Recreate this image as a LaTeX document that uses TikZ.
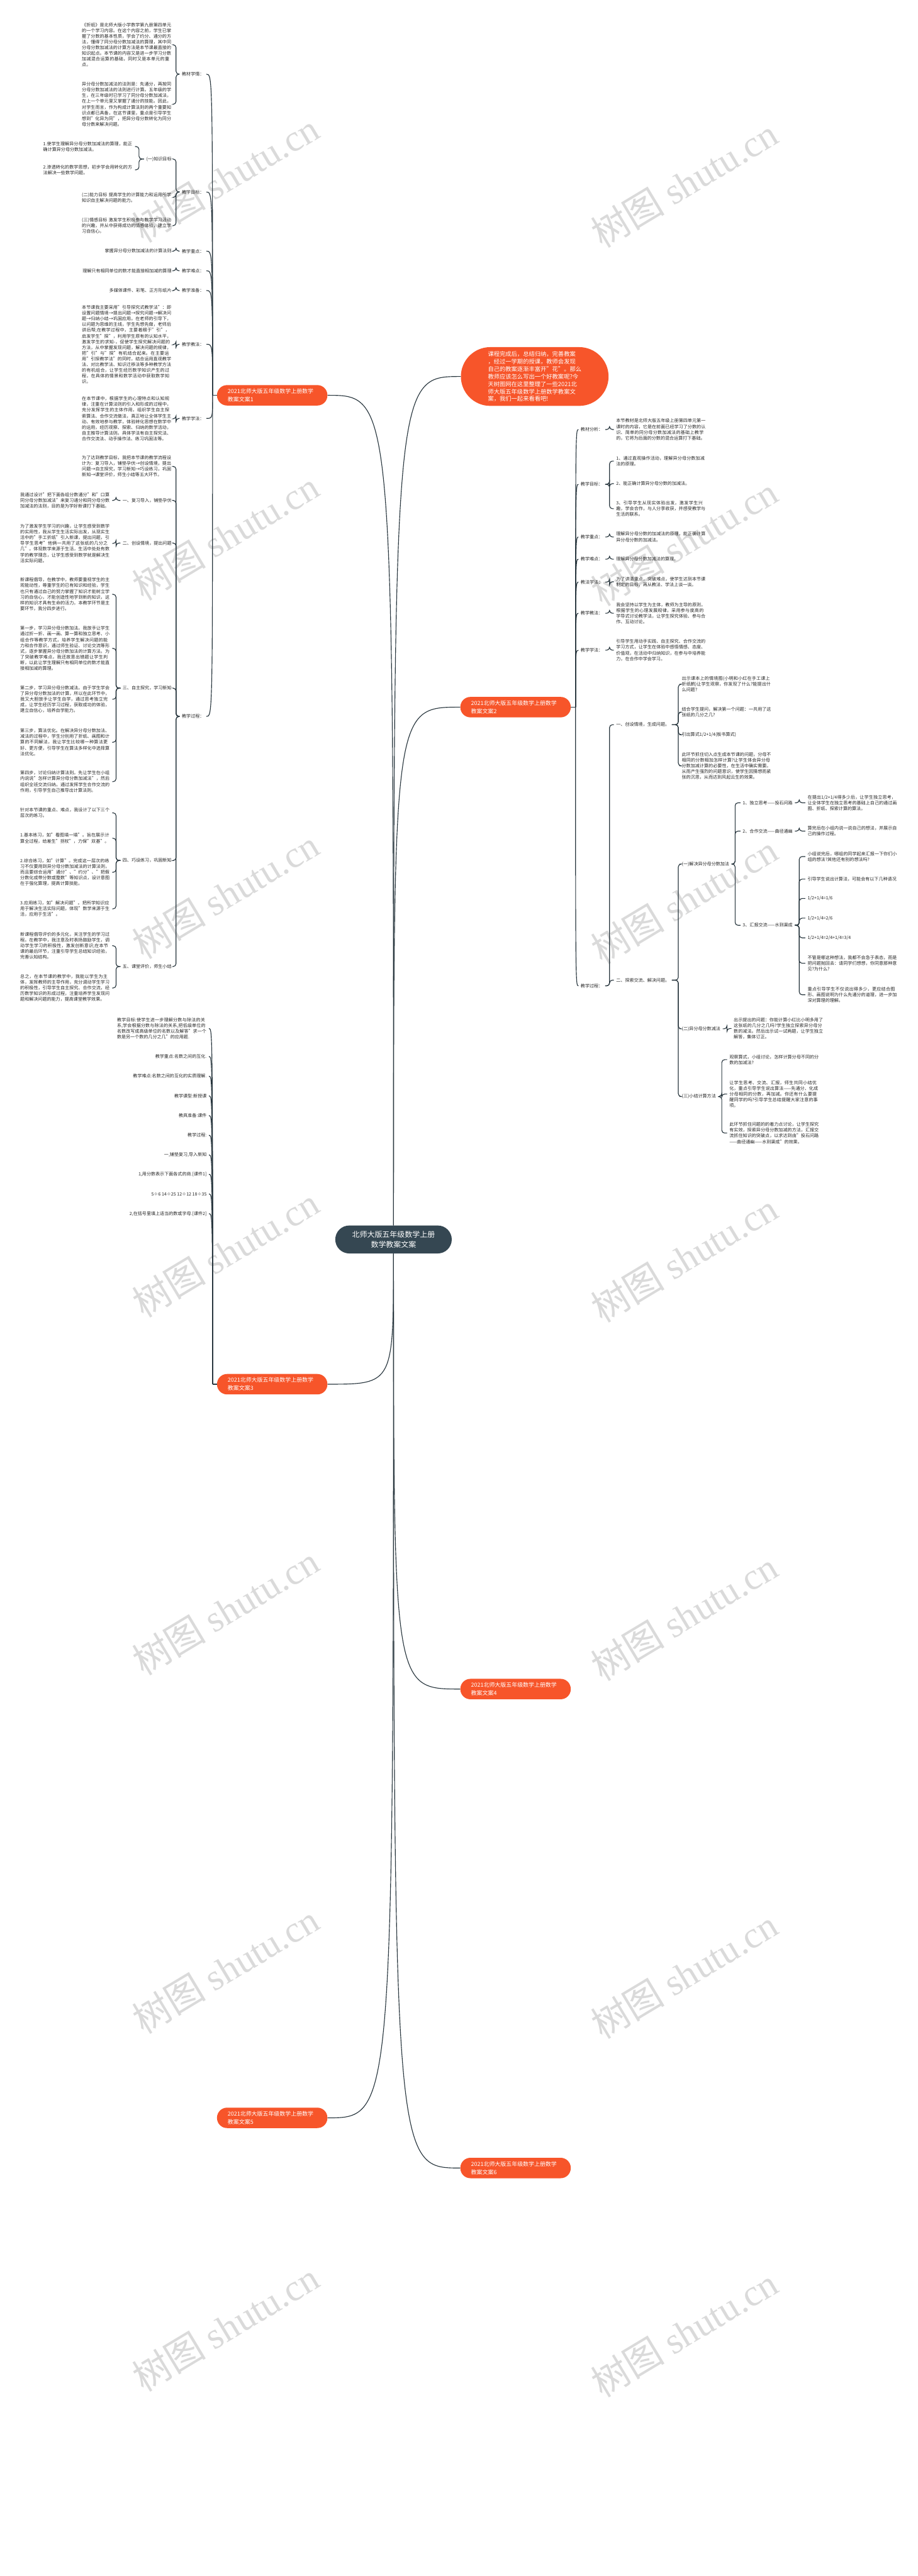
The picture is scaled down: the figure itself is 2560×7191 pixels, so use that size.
\documentclass[tikz,border=0pt]{standalone}
\usepackage{fontspec}
\setmainfont{Noto Sans CJK SC}
\newfontfamily\wmserif{Liberation Serif}
\XeTeXlinebreaklocale "zh"
\XeTeXlinebreakskip = 0pt plus 1pt
\definecolor{brand}{RGB}{247,85,42}
\definecolor{slate}{RGB}{53,71,82}
\definecolor{linec}{RGB}{40,54,62}
\definecolor{wmc}{RGB}{218,218,218}
\newcommand{\fanL}[2]{\draw[conn] (#1) .. controls (#1 |- #2.east) .. (#2.east);}
\newcommand{\fanR}[2]{\draw[conn] (#1) .. controls (#1 |- #2.west) .. (#2.west);}
\newcommand{\brL}[3]{\draw[brc] (#1.west) -- ++(-#3,0) |- (#2.east);}
\newcommand{\brR}[3]{\draw[brc] (#1.east) -- ++(#3,0) |- (#2.west);}
\begin{document}
\begin{tikzpicture}[x=0.5pt,y=-0.5pt,
  conn/.style={draw=linec,line width=1pt},
  brc/.style={conn,rounded corners=4pt},
  txt/.style={font=\fontsize{6.2}{8}\selectfont,inner xsep=3pt,inner ysep=1pt,text=black!85},
  leafw/.style={txt,text width=125pt,align=left},
  lab/.style={txt},
  branch/.style={fill=brand,text=white,rounded corners=14pt,minimum height=28.5pt,text width=124pt,inner xsep=15pt,align=left,font=\fontsize{7.85}{11.5}\selectfont},
  wm/.style={text=wmc,rotate=31,anchor=base west,inner sep=0pt,font=\fontsize{52}{56}\selectfont},
  ]
\useasboundingbox (0,0) rectangle (2560,7191);
\fill[white] (0,0) rectangle (2560,7191);

% watermarks
\foreach \k in {0,...,6} {
  \node[wm] (wl\k) at (400,{680+1000*\k}) {树图 {\wmserif shutu.cn}};
  \node[wm] (wr\k) at (1680,{695+1000*\k}) {树图 {\wmserif shutu.cn}};
}

% center
\node[fill=slate,text=white,rounded corners=19.5pt,minimum width=162.5pt,minimum height=39pt,align=center,font=\fontsize{10.5}{14.5}\selectfont] (c) at (1098,3460) {北师大版五年级数学上册\\数学教案文案};

% note
\node[fill=brand,text=white,rounded corners=41pt,minimum width=206pt,minimum height=82pt,align=left,font=\fontsize{8.15}{10.5}\selectfont] (n) at (1492,1051) {课程完成后，总结归纳，完善教案\\，经过一学期的授课，教师会发现\\自己的教案逐渐丰富开"花"。那么\\教师应该怎么写出一个好教案呢?今\\天树图网在这里整理了一些2021北\\师大版五年级数学上册数学教案文\\案，我们一起来看看吧!};

% branch nodes
\node[branch] (A) at (759.5,1103.5) {2021北师大版五年级数学上册数学\\教案文案1};
\node[branch] (B) at (1438.5,1974) {2021北师大版五年级数学上册数学\\教案文案2};
\node[branch] (D) at (759.5,3864) {2021北师大版五年级数学上册数学\\教案文案3};
\node[branch] (E) at (1438.5,4715) {2021北师大版五年级数学上册数学\\教案文案4};
\node[branch] (F) at (759.5,5912) {2021北师大版五年级数学上册数学\\教案文案5};
\node[branch] (G) at (1438.5,6052) {2021北师大版五年级数学上册数学\\教案文案6};

\draw[conn] (c.north) .. controls (c.north |- n.west) .. (n.west);
\draw[conn] (c.north) .. controls (c.north |- A.east) .. (A.east);
\draw[conn] (c.north) .. controls (c.north |- B.west) .. (B.west);
\draw[conn] (c.south) .. controls (c.south |- D.east) .. (D.east);
\draw[conn] (c.south) .. controls (c.south |- E.west) .. (E.west);
\draw[conn] (c.south) .. controls (c.south |- F.east) .. (F.east);
\draw[conn] (c.south) .. controls (c.south |- G.west) .. (G.west);

% ================= branch A (left) =================
\draw[conn] (A.west) -- ++(-12,0) coordinate (tA);
\node[lab,anchor=east] (a1) at (576,207) {教材学情：};
\node[leafw,anchor=east] (a1a) at (485,125) {《折纸》是北师大版小学数学第九册第四单元的一个学习内容。在这个内容之前，学生已掌握了分数的基本性质，学会了约分、通分的方法，懂得了同分母分数加减法的算理，其中同分母分数加减法的计算方法是本节课最直接的知识起点。本节课的内容又是进一步学习分数加减混合运算的基础，同时又是本单元的重点。};
\node[leafw,anchor=east] (a1b) at (485,291) {异分母分数加减法的法则是：先通分，再按同分母分数加减法的法则进行计算。五年级的学生，在三年级时已学习了同分母分数加减法，在上一个单元里又掌握了通分的技能。因此，对学生而言，作为构成计算法则的两个重要知识点都已具备，在这节课里，重点是引导学生想到"化异为同"，把异分母分数转化为同分母分数来解决问题。};
\node[lab,anchor=east] (a2) at (576,536) {教学目标：};
\node[lab,anchor=east] (a2a) at (485,444) {(一)知识目标};
\node[leafw,anchor=east] (a2a1) at (377,409) {1.使学生理解异分母分数加减法的算理，能正确计算异分母分数加减法。};
\node[leafw,anchor=east] (a2a2) at (377,474) {2.渗透转化的数学思想，初步学会用转化的方法解决一些数学问题。};
\node[leafw,anchor=east] (a2b) at (485,551) {(二)能力目标 提高学生的计算能力和运用所学知识自主解决问题的能力。};
\node[leafw,anchor=east] (a2c) at (485,630) {(三)情感目标 激发学生积极参与数学学习活动的兴趣，并从中获得成功的情感体验，建立学习自信心。};
\node[lab,anchor=east] (a3) at (576,701) {教学重点：};
\node[lab,anchor=east] (a3a) at (485,701) {掌握异分母分数加减法的计算法则};
\node[lab,anchor=east] (a4) at (576,756) {教学难点：};
\node[lab,anchor=east] (a4a) at (485,756) {理解只有相同单位的数才能直接相加减的算理};
\node[lab,anchor=east] (a5) at (576,811) {教学准备：};
\node[lab,anchor=east] (a5a) at (485,811) {多媒体课件、彩笔、正方形纸片};
\node[lab,anchor=east] (a6) at (576,961) {教学教法：};
\node[leafw,anchor=east] (a6a) at (485,962) {本节课我主要采用"引导探究式教学法"：即设置问题情境→提出问题→探究问题→解决问题→归纳小结→巩固应用。在老师的引导下，以问题为思维的主线，学生先想先做，老师后讲后帮;在教学过程中，主要着眼于"引"，启发学生"探"，利用学生原有的认知水平，激发学生的求知-，促使学生探究解决问题的方法，从中掌握发现问题，解决问题的规律，把"引"与"探"有机结合起来。在主要运用"引探教学法"的同时，结合运用直观教学法、对比教学法、知识迁移法等多种教学方法的有机组合，让学生经历数学知识产生的过程，在具体的情景和数学活动中获取数学知识。};
\node[lab,anchor=east] (a7) at (576,1168) {教学学法：};
\node[leafw,anchor=east] (a7a) at (485,1169) {在本节课中，根据学生的心理特点和认知规律，注重在计算法则的引入和形成的过程中，充分发挥学生的主体作用，组织学生自主探索算法、合作交流做法，真正地让全体学生主动、有效地参与教学，体验转化思想在数学中的运用，经历观察、探索、归纳的数学活动，自主推导计算法则。具体学法有自主探究法、合作交流法、动手操作法、练习巩固法等。};
\node[lab,anchor=east] (a8) at (576,2000) {教学过程：};
\node[leafw,anchor=east] (a8a) at (485,1302) {为了达到教学目标，我把本节课的教学流程设计为：复习导入，铺垫孕伏→创设情境，提出问题→自主探究，学习新知→巧设练习，巩固新知→课堂评价，师生小结等五大环节。};
\node[lab,anchor=east] (a8b) at (485,1397) {一、复习导入，铺垫孕伏};
\node[leafw,anchor=east] (a8b1) at (313,1397) {我通过设计"把下面各组分数通分"和"口算同分母分数加减法"来复习通分和同分母分数加减法的法则，目的是为学好新课打下基础。};
\node[lab,anchor=east] (a8c) at (485,1516) {二、创设情境，提出问题};
\node[leafw,anchor=east] (a8c1) at (313,1517) {为了激发学生学习的兴趣，让学生感受到数学的实用性，我从学生生活实际出发，从现实生活中的"手工折纸"引入新课，提出问题，引导学生思考"他俩一共用了这张纸的几分之几"。体现数学来源于生活，生活中处处有数学的教学理念，让学生感受到数学就是解决生活实际问题。};
\node[lab,anchor=east] (a8d) at (485,1921) {三、自主探究，学习新知};
\node[leafw,anchor=east] (a8d1) at (313,1659) {新课程倡导，在教学中，教师要重视学生的主观能动性，尊重学生的已有知识和经验，学生也只有通过自己的努力掌握了知识才能树立学习的自信心，才能创造性地学到新的知识，这样的知识才具有生命的活力。本教学环节是主要环节，我分四步进行。};
\node[leafw,anchor=east] (a8d2) at (313,1810) {第一步，学习异分母分数加法。我放手让学生通过折一折、画一画、算一算和独立思考、小组合作等教学方式，培养学生解决问题的能力和合作意识，通过师生验证、讨论交流等形式，逐步掌握异分母分数加法的计算方法。为了突破教学难点，我还故意出错题让学生判断，以此让学生理解只有相同单位的数才能直接相加减的算理。};
\node[leafw,anchor=east] (a8d3) at (313,1952) {第二步，学习异分母分数减法。由于学生学会了异分母分数加法的计算，所以在此环节中，我又大胆放手让学生自学，通过思考独立完成，让学生经历学习过程，获取成功的体验，建立自信心，培养自学能力。};
\node[leafw,anchor=east] (a8d4) at (313,2072) {第三步，算法优化。在解决异分母分数加法、减法的过程中，学生分别用了折纸、画图和计算的不同解法，我让学生比较哪一种算法更好、更方便，引导学生在算法多样化中选择算法优化。};
\node[leafw,anchor=east] (a8d5) at (313,2182) {第四步，讨论归纳计算法则。先让学生在小组内说说"怎样计算异分母分数加减法"，然后组织全班交流归纳。通过发挥学生合作交流的作用，引导学生自己推导出计算法则。};
\node[lab,anchor=east] (a8e) at (485,2402) {四、巧设练习，巩固新知};
\node[leafw,anchor=east] (a8e1) at (313,2269) {针对本节课的重点、难点，我设计了以下三个层次的练习。};
\node[leafw,anchor=east] (a8e2) at (313,2340) {1.基本练习，如"看图填一填"。旨在展示计算全过程，给差生"拐杖"，力保"双基"。};
\node[leafw,anchor=east] (a8e3) at (313,2435) {2.综合练习，如"计算"。完成这一层次的练习不仅要用到异分母分数加减法的计算法则，而且要综合运用"通分"、"约分"、"把假分数化成带分数或整数"等知识点，设计意图在于强化算理，提高计算技能。};
\node[leafw,anchor=east] (a8e4) at (313,2537) {3.应用练习，如"解决问题"。把所学知识应用于解决生活实际问题，体现"数学来源于生活，应用于生活"。};
\node[lab,anchor=east] (a8f) at (485,2698) {五、课堂评价，师生小结};
\node[leafw,anchor=east] (a8f1) at (313,2640) {新课程倡导评价的多元化，关注学生的学习过程。在教学中，我注意及时表扬鼓励学生，调动学生学习的积极性，激发创新意识;在本节课的最后环节，注重引导学生总结知识经验，完善认知结构。};
\node[leafw,anchor=east] (a8f2) at (313,2758) {总之，在本节课的教学中，我能以学生为主体，发挥教师的主导作用，充分调动学生学习的积极性，引导学生自主探究、合作交流，经历数学知识的形成过程，注重培养学生发现问题和解决问题的能力，提高课堂教学效果。};

\foreach \k in {a1,a2,a3,a4,a5,a6,a7,a8} {\fanL{tA}{\k}}
\brL{a1}{a1a}{10} \brL{a1}{a1b}{10}
\brL{a2}{a2a}{10} \brL{a2}{a2b}{10} \brL{a2}{a2c}{10}
\brL{a2a}{a2a1}{14} \brL{a2a}{a2a2}{14}
\brL{a3}{a3a}{10} \brL{a4}{a4a}{10} \brL{a5}{a5a}{10}
\brL{a6}{a6a}{10} \brL{a7}{a7a}{10}
\foreach \k in {a8a,a8b,a8c,a8d,a8e,a8f} {\brL{a8}{\k}{10}}
\brL{a8b}{a8b1}{12} \brL{a8c}{a8c1}{12}
\foreach \k in {a8d1,a8d2,a8d3,a8d4,a8d5} {\brL{a8d}{\k}{12}}
\foreach \k in {a8e1,a8e2,a8e3,a8e4} {\brL{a8e}{\k}{12}}
\foreach \k in {a8f1,a8f2} {\brL{a8f}{\k}{12}}

% ================= branch B (right) =================
\draw[conn] (B.east) -- ++(13,0) coordinate (tB);
\node[lab,anchor=west] (b1) at (1614,1199) {教材分析：};
\node[leafw,anchor=west] (b1a) at (1713,1199) {本节教材是北师大版五年级上册第四单元第一课时的内容，它是在前面已经学习了分数的认识、简单的同分母分数加减法的基础上教学的，它将为后面的分数的混合运算打下基础。};
\node[lab,anchor=west] (b2) at (1614,1352) {教学目标：};
\node[leafw,anchor=west] (b2a) at (1713,1287) {1、通过直观操作活动，理解异分母分数加减法的原理。};
\node[leafw,anchor=west] (b2b) at (1713,1350) {2、能正确计算异分母分数的加减法。};
\node[leafw,anchor=west] (b2c) at (1713,1420) {3、引导学生从现实体验出发，激发学生兴趣，学会合作，与人分享收获，并感受教学与生活的联系。};
\node[lab,anchor=west] (b3) at (1614,1499) {教学重点：};
\node[leafw,anchor=west] (b3a) at (1713,1499) {理解异分母分数的加减法的原理，能正确计算异分母分数的加减法。};
\node[lab,anchor=west] (b4) at (1614,1561) {教学难点：};
\node[lab,anchor=west] (b4a) at (1713,1561) {理解异分母分数加减法的算理。};
\node[lab,anchor=west] (b5) at (1614,1625) {教法学法：};
\node[leafw,anchor=west] (b5a) at (1713,1624) {为了讲清重点，突破难点，使学生达到本节课制定的目标，再从教法、学法上谈一谈。};
\node[lab,anchor=west] (b6) at (1614,1712) {教学教法：};
\node[leafw,anchor=west] (b6a) at (1713,1712) {我会坚持以学生为主体，教师为主导的原则，根据学生的心理发展规律，采用参与度高的学导式讨论教学法，让学生探究体验、参与合作、互动讨论。};
\node[lab,anchor=west] (b7) at (1614,1815) {教学学法：};
\node[leafw,anchor=west] (b7a) at (1713,1815) {引导学生用动手实践、自主探究、合作交流的学习方式，让学生在体验中感悟情感、态度、价值观，在活动中归纳知识，在参与中培养能力，在合作中学会学习。};
\node[lab,anchor=west] (b8) at (1614,2752) {教学过程：};
\node[lab,anchor=west] (b8a) at (1713,2023) {一、创设情境，生成问题。};
\node[leafw,anchor=west] (b8a1) at (1896,1910) {出示课本上的情境图(小明和小红在手工课上折纸鹤)让学生观察，你发现了什么?能提出什么问题?};
\node[leafw,anchor=west] (b8a2) at (1896,1988) {结合学生提问，解决第一个问题：一共用了这张纸的几分之几?};
\node[lab,anchor=west] (b8a3) at (1896,2051) {引出算式1/2+1/4(板书算式)};
\node[leafw,anchor=west] (b8a4) at (1896,2138) {此环节抓住切入点生成本节课的问题，分母不相同的分数相加怎样计算?让学生体会异分母分数加减计算的必要性，在生活中确实需要。从而产生强烈的问题意识，使学生因猜想而紧张的沉思，从而达到风起云生的效果。};
\node[lab,anchor=west] (b8b) at (1713,2736) {二、探索交流、解决问题。};
\node[lab,anchor=west] (b8b1) at (1896,2412) {(一)解决异分母分数加法};
\node[lab,anchor=west] (b8b1a) at (2066,2241) {1、独立思考——投石问路};
\node[leafw,anchor=west] (b8b1a1) at (2247,2241) {在提出1/2+1/4得多少后，让学生独立思考，让全体学生在独立思考的基础上自己的通过画图、折纸、探索计算的算法。};
\node[lab,anchor=west] (b8b1b) at (2066,2320) {2、合作交流——曲径通幽};
\node[leafw,anchor=west] (b8b1b1) at (2247,2320) {算完后在小组内说一说自己的想法，并展示自己的操作过程。};
\node[lab,anchor=west] (b8b1c) at (2066,2583) {3、汇报交流——水到渠成};
\node[leafw,anchor=west] (b8b1c1) at (2247,2391) {小组说完后，哪组的同学起来汇报一下你们小组的想法?其他还有别的想法吗?};
\node[leafw,anchor=west] (b8b1c2) at (2247,2454) {引导学生说出计算法，可能会有以下几种请况};
\node[lab,anchor=west] (b8b1c3) at (2247,2508) {1/2+1/4=1/6};
\node[lab,anchor=west] (b8b1c4) at (2247,2563) {1/2+1/4=2/6};
\node[lab,anchor=west] (b8b1c5) at (2247,2618) {1/2+1/4=2/4+1/4=3/4};
\node[leafw,anchor=west] (b8b1c6) at (2247,2689) {不管是哪这种想法，我都不会急于表态，而是把问题抛回去：请同学们想想，你同意那种意见?为什么?};
\node[leafw,anchor=west] (b8b1c7) at (2247,2777) {重点引导学生不仅说出得多少，更应结合图形、画图说明为什么先通分的道理，进一步加深对算理的理解。};
\node[lab,anchor=west] (b8b2) at (1896,2872) {(二)异分母分数减法};
\node[leafw,anchor=west] (b8b2a) at (2041,2871) {出示提出的问题：你能计算小红比小明多用了这张纸的几分之几吗?学生独立探索异分母分数的减法。然后出示试一试两题，让学生独立解答，集体订正。};
\node[lab,anchor=west] (b8b3) at (1896,3061) {(三)小结计算方法};
\node[leafw,anchor=west] (b8b3a) at (2029,2958) {观察算式，小组讨论，怎样计算分母不同的分数的加减法?};
\node[leafw,anchor=west] (b8b3b) at (2029,3054) {让学生思考、交流、汇报，师生共同小结优化，重点引导学生说出算法——先通分、化成分母相同的分数，再加减。你还有什么要提醒同学的吗?引导学生总结提醒大家注意的事项。};
\node[leafw,anchor=west] (b8b3c) at (2029,3163) {此环节抓住问题的的着力点讨论，让学生探究有实效，探索异分母分数加减的方法，汇报交流抓住知识的突破点，以求达到由"投石问路——曲径通幽——水到渠成"的效果。};

\foreach \k in {b1,b2,b3,b4,b5,b6,b7,b8} {\fanR{tB}{\k}}
\brR{b1}{b1a}{12}
\foreach \k in {b2a,b2b,b2c} {\brR{b2}{\k}{12}}
\brR{b3}{b3a}{12} \brR{b4}{b4a}{12} \brR{b5}{b5a}{12} \brR{b6}{b6a}{12} \brR{b7}{b7a}{12}
\brR{b8}{b8a}{12} \brR{b8}{b8b}{12}
\foreach \k in {b8a1,b8a2,b8a3,b8a4} {\brR{b8a}{\k}{18}}
\foreach \k in {b8b1,b8b2,b8b3} {\brR{b8b}{\k}{18}}
\foreach \k in {b8b1a,b8b1b,b8b1c} {\brR{b8b1}{\k}{10}}
\brR{b8b1a}{b8b1a1}{12} \brR{b8b1b}{b8b1b1}{12}
\foreach \k in {b8b1c1,b8b1c2,b8b1c3,b8b1c4,b8b1c5,b8b1c6,b8b1c7} {\brR{b8b1c}{\k}{12}}
\brR{b8b2}{b8b2a}{12}
\foreach \k in {b8b3a,b8b3b,b8b3c} {\brR{b8b3}{\k}{10}}

% ================= branch D (left) =================
\draw[conn] (D.west) -- ++(-12,0) coordinate (tD);
\node[leafw,anchor=east] (d1) at (583,2871) {教学目标:使学生进一步理解分数与除法的关系,学会根据分数与除法的关系,把低级单位的名数改写成高级单位的名数以及解答"求一个数是另一个数的几分之几"的应用题.};
\node[lab,anchor=east] (d2) at (583,2949) {教学重点:名数之间的互化.};
\node[lab,anchor=east] (d3) at (583,3004) {教学难点:名数之间的互化的实质理解.};
\node[lab,anchor=east] (d4) at (583,3059) {教学课型:新授课};
\node[lab,anchor=east] (d5) at (583,3114) {教具准备:课件};
\node[lab,anchor=east] (d6) at (583,3169) {教学过程:};
\node[lab,anchor=east] (d7) at (583,3224) {一,铺垫复习,导入新知};
\node[lab,anchor=east] (d8) at (583,3278) {1,用分数表示下面各式的商.[课件1]};
\node[lab,anchor=east] (d9) at (583,3333) {5÷6 14÷25 12÷12 18÷35};
\node[lab,anchor=east] (d10) at (583,3388) {2,在括号里填上适当的数或字母.[课件2]};
\foreach \k in {d1,d2,d3,d4,d5,d6,d7,d8,d9,d10} {\fanL{tD}{\k}}

\end{tikzpicture}
\end{document}
